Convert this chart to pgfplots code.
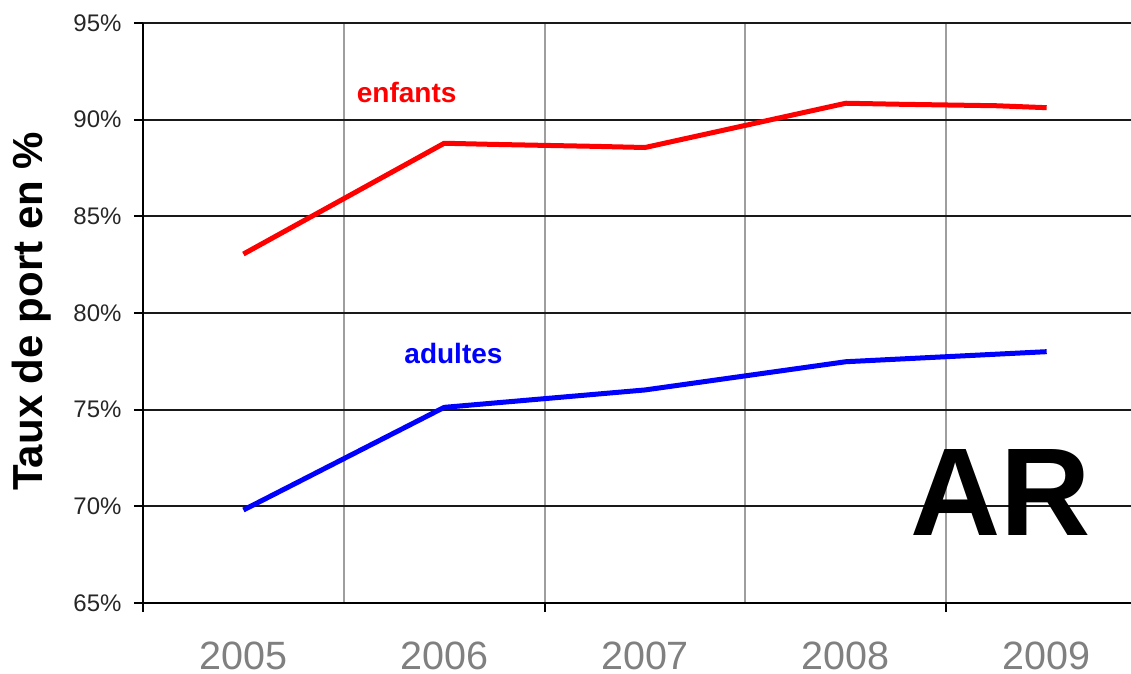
\documentclass[border=0pt]{standalone}
\usepackage{fontspec}
\setmainfont{Liberation Sans}
\usepackage{pgfplots}
\pgfplotsset{compat=1.18}
\begin{document}
\begin{tikzpicture}
\begin{axis}[
  scale only axis,
  width=988pt, height=580pt,
  xmin=-0.5, xmax=4.42,
  ymin=65, ymax=95,
  clip=false,
  axis x line*=bottom,
  axis y line*=left,
  axis line style={black, line width=2.5pt},
  ytick={65,70,75,80,85,90,95},
  yticklabel={\pgfmathprintnumber{\tick}\%},
  /pgf/number format/assume math mode=true,
  yticklabel style={font=\fontsize{24}{28}\selectfont, text=black!85, xshift=-9pt},
  ymajorgrids,
  y grid style={black!90, line width=2pt},
  ytick style={black, line width=2pt},
  tick align=outside,
  major tick length=9pt,
  xtick={-0.5,1.5,3.5},
  xticklabels={,,},
  xmajorgrids,
  x grid style={black!38, line width=2pt},
  minor xtick={0.5,2.5},
  xminorgrids,
  minor x grid style={black!38, line width=2pt},
  minor tick length=0pt,
  xtick style={black, line width=2pt},
  extra x ticks={0,1,2,3,4},
  extra x tick labels={2005,2006,2007,2008,2009},
  extra x tick style={grid=none, major tick length=0pt,
    xticklabel style={font=\fontsize{39.5}{46}\selectfont, text=black!50, inner sep=0pt, yshift=-39pt}},
  ylabel={\textbf{Taux de port en \%}},
  ylabel style={font=\fontsize{42}{48}\selectfont, at={(axis description cs:-0.1124,0.503)}, anchor=center},
]
\addplot[red, line width=5pt, line join=round] coordinates {
  (0,83.05) (1,88.78) (1.25,88.72) (1.75,88.62) (2,88.56) (3,90.85) (3.25,90.80) (3.75,90.72) (4,90.62)
};
\addplot[blue, line width=5pt, line join=round] coordinates {
  (0,69.81) (1,75.12) (2,76.02) (3,77.48) (4,78.00)
};
\node[text=red, font=\fontsize{28}{32}\selectfont\bfseries] at (axis cs:0.813,91.38) {enfants};
\node[text=blue, font=\fontsize{28}{32}\selectfont\bfseries] at (axis cs:1.046,77.93) {adultes};
\node[text=black, font=\fontsize{125}{130}\selectfont\bfseries] at (axis cs:3.77,70.71) {AR};
\end{axis}
\pgfresetboundingbox
\path (-143pt,-70pt) rectangle (988pt,603pt);
\end{tikzpicture}
\end{document}
